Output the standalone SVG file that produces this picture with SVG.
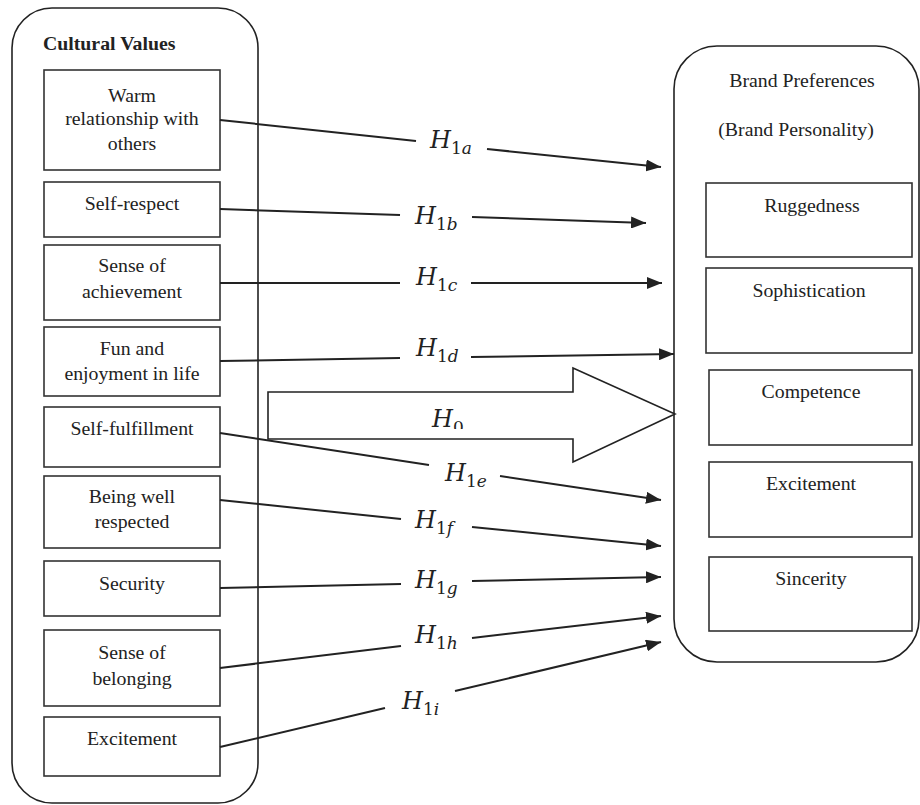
<svg xmlns="http://www.w3.org/2000/svg" width="920" height="805" viewBox="0 0 920 805">
<style>
.cont{fill:none;stroke:#222;stroke-width:1.6}
.box{fill:#fff;stroke:#333;stroke-width:1.6}
.t{font-family:"Liberation Serif","Times New Roman",serif;font-size:19.8px;fill:#222;text-anchor:middle}
.b{font-weight:bold;text-anchor:start}
.ln{stroke:#222;stroke-width:2;fill:none}
.h{font-family:"DejaVu Serif",serif;font-style:italic;font-size:24px;fill:#222}
.s{font-size:17px;font-style:normal}
.si{font-size:17px;font-style:italic}
.big{fill:#fff;stroke:#222;stroke-width:1.6}
</style>
<defs>
<marker id="ah" markerUnits="userSpaceOnUse" markerWidth="16" markerHeight="12" refX="15" refY="6" orient="auto">
<path d="M0,0 L15,6 L0,12 z" fill="#222"/>
</marker>
<clipPath id="h0clip"><rect x="400" y="395" width="100" height="34"/></clipPath>
</defs>

<g id="cultural-values">
<rect class="cont" x="12" y="8" width="246" height="795" rx="40" ry="40"/>
<text class="t b" x="43" y="50">Cultural Values</text>
</g>

<g id="brand-preferences">
<rect class="cont" x="674" y="46" width="245" height="616" rx="43" ry="43"/>
<text class="t" x="802" y="87">Brand Preferences</text>
<text class="t" x="796" y="136">(Brand Personality)</text>
</g>

<g id="h0-arrow">
<polygon class="big" points="268,392 573,392 573,368 675,414 573,462 573,439 268,439"/>
<text class="h" x="432" y="427" clip-path="url(#h0clip)">H<tspan class="s" dy="6">0</tspan></text>
</g>

<g id="cv-warm"><rect class="box" x="44" y="70" width="176" height="100"/>
<text class="t" x="132" y="102">Warm</text><text class="t" x="132" y="125">relationship with</text><text class="t" x="132" y="150">others</text></g>
<g id="cv-selfrespect"><rect class="box" x="44" y="182" width="176" height="55"/>
<text class="t" x="132" y="210">Self-respect</text></g>
<g id="cv-achievement"><rect class="box" x="44" y="245" width="176" height="75"/>
<text class="t" x="132" y="272">Sense of</text><text class="t" x="132" y="298">achievement</text></g>
<g id="cv-fun"><rect class="box" x="44" y="327" width="176" height="69"/>
<text class="t" x="132" y="355">Fun and</text><text class="t" x="132" y="380">enjoyment in life</text></g>
<g id="cv-selffulfillment"><rect class="box" x="44" y="407" width="176" height="60"/>
<text class="t" x="132" y="435">Self-fulfillment</text></g>
<g id="cv-respected"><rect class="box" x="44" y="476" width="176" height="72"/>
<text class="t" x="132" y="503">Being well</text><text class="t" x="132" y="528">respected</text></g>
<g id="cv-security"><rect class="box" x="44" y="561" width="176" height="55"/>
<text class="t" x="132" y="590">Security</text></g>
<g id="cv-belonging"><rect class="box" x="44" y="630" width="176" height="76"/>
<text class="t" x="132" y="659">Sense of</text><text class="t" x="132" y="685">belonging</text></g>
<g id="cv-excitement"><rect class="box" x="44" y="717" width="176" height="59"/>
<text class="t" x="132" y="745">Excitement</text></g>

<g id="bp-ruggedness"><rect class="box" x="706" y="183" width="206" height="74"/>
<text class="t" x="812" y="212">Ruggedness</text></g>
<g id="bp-sophistication"><rect class="box" x="706" y="268" width="206" height="85"/>
<text class="t" x="809" y="297">Sophistication</text></g>
<g id="bp-competence"><rect class="box" x="709" y="370" width="203" height="75"/>
<text class="t" x="811" y="398">Competence</text></g>
<g id="bp-excitement"><rect class="box" x="709" y="462" width="203" height="75"/>
<text class="t" x="811" y="490">Excitement</text></g>
<g id="bp-sincerity"><rect class="box" x="709" y="557" width="203" height="74"/>
<text class="t" x="811" y="585">Sincerity</text></g>

<g id="connectors">
<line class="ln" x1="220" y1="120" x2="416" y2="141"/>
<line class="ln" x1="487" y1="149" x2="661" y2="167" marker-end="url(#ah)"/>
<text class="h" x="430" y="148">H<tspan class="s" dy="6">1</tspan><tspan class="si">a</tspan></text>

<line class="ln" x1="220" y1="209" x2="400" y2="215"/>
<line class="ln" x1="472" y1="217" x2="646" y2="223" marker-end="url(#ah)"/>
<text class="h" x="415" y="224">H<tspan class="s" dy="6">1</tspan><tspan class="si">b</tspan></text>

<line class="ln" x1="220" y1="283" x2="400" y2="283"/>
<line class="ln" x1="471" y1="283" x2="662" y2="283" marker-end="url(#ah)"/>
<text class="h" x="416" y="285">H<tspan class="s" dy="6">1</tspan><tspan class="si">c</tspan></text>

<line class="ln" x1="220" y1="361" x2="400" y2="358"/>
<line class="ln" x1="471" y1="357" x2="674" y2="354" marker-end="url(#ah)"/>
<text class="h" x="416" y="356">H<tspan class="s" dy="6">1</tspan><tspan class="si">d</tspan></text>

<line class="ln" x1="220" y1="433" x2="429" y2="465"/>
<line class="ln" x1="500" y1="476" x2="661" y2="500" marker-end="url(#ah)"/>
<text class="h" x="445" y="481">H<tspan class="s" dy="6">1</tspan><tspan class="si">e</tspan></text>

<line class="ln" x1="220" y1="500" x2="401" y2="519"/>
<line class="ln" x1="472" y1="527" x2="661" y2="546" marker-end="url(#ah)"/>
<text class="h" x="415" y="528">H<tspan class="s" dy="6">1</tspan><tspan class="si">f</tspan></text>

<line class="ln" x1="220" y1="588" x2="401" y2="584"/>
<line class="ln" x1="472" y1="581" x2="661" y2="577" marker-end="url(#ah)"/>
<text class="h" x="415" y="588">H<tspan class="s" dy="6">1</tspan><tspan class="si">g</tspan></text>

<line class="ln" x1="220" y1="668" x2="401" y2="646"/>
<line class="ln" x1="472" y1="638" x2="661" y2="616" marker-end="url(#ah)"/>
<text class="h" x="415" y="643">H<tspan class="s" dy="6">1</tspan><tspan class="si">h</tspan></text>

<line class="ln" x1="220" y1="747" x2="385" y2="708"/>
<line class="ln" x1="455" y1="691" x2="661" y2="642" marker-end="url(#ah)"/>
<text class="h" x="402" y="709">H<tspan class="s" dy="6">1</tspan><tspan class="si">i</tspan></text>
</g>
</svg>
